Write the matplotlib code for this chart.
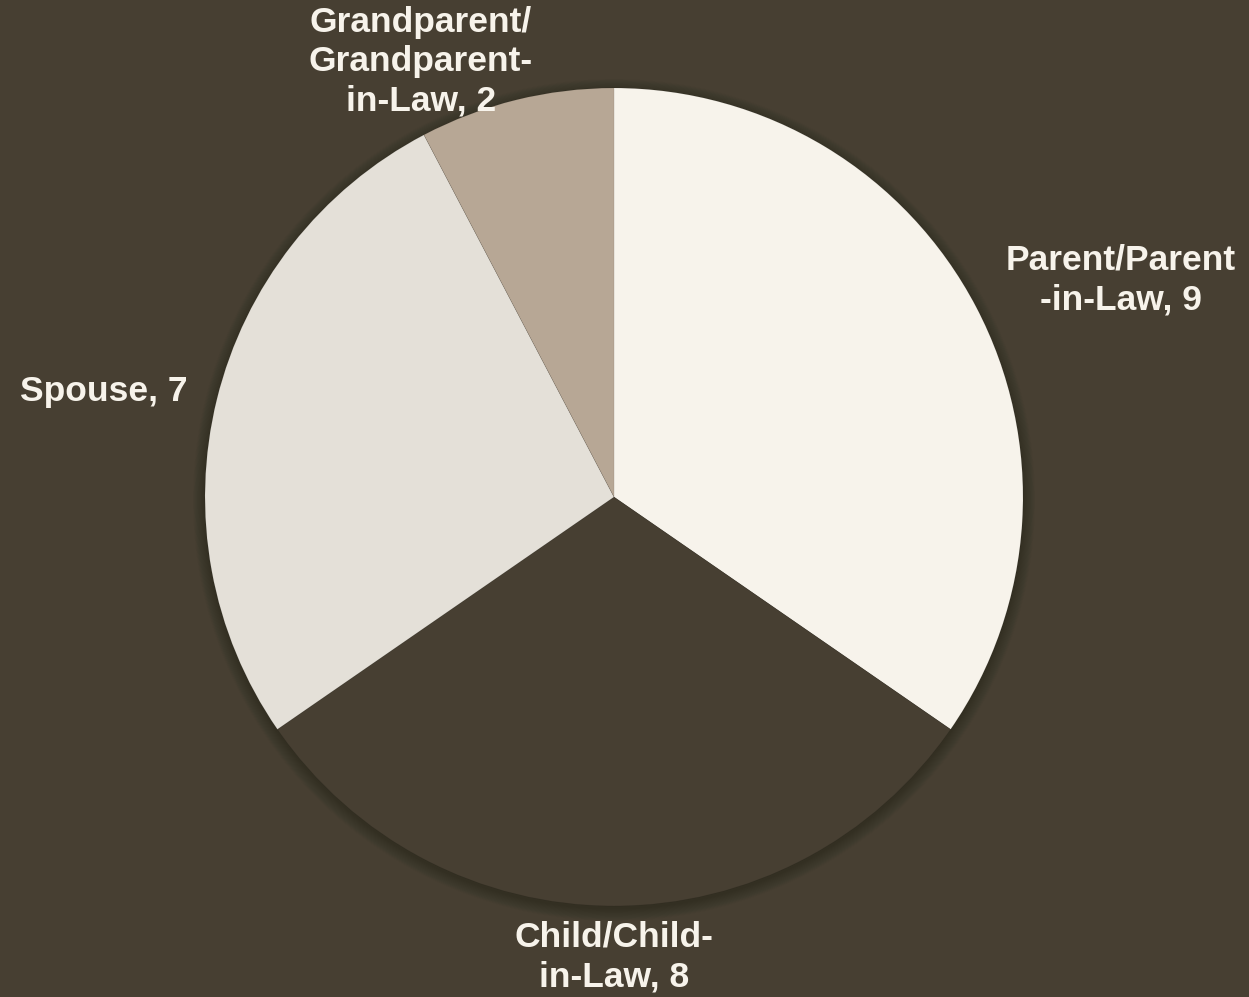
import matplotlib
matplotlib.use("Agg")
import matplotlib.pyplot as plt
from matplotlib.patches import Circle

categories = ["Parent/Parent\n-in-Law", "Child/Child-\nin-Law", "Spouse", "Grandparent/\nGrandparent-\nin-Law"]
values = [9, 8, 7, 2]
colors = ["#f7f3eb", "#473f32", "#e4e0d8", "#b7a795"]
bg = "#473f32"
text_color = "#f7f3eb"

# label anchor positions (figure pixel coords, y from top)
label_pos = [(1121, 280), (614, 957), (104, 392), (421, 62)]

W, H = 1249, 997
fig = plt.figure(figsize=(W / 100, H / 100), dpi=100, facecolor=bg)
ax = fig.add_axes([0, 0, 1, 1])
ax.set_facecolor(bg)

cx, cy, r = 614, H - 497, 409

# soft shadow
for k in range(16):
    ax.add_patch(Circle((cx, cy - 3), r + k * 0.8, color="black", alpha=0.016, lw=0, zorder=0))

wedges, _ = ax.pie(values, colors=colors, startangle=90, counterclock=False,
                   center=(cx, cy), radius=r, frame=True,
                   wedgeprops=dict(linewidth=0.5, edgecolor="#00000018"))
for w in wedges:
    w.set_zorder(2)

for cat, v, (lx, ly) in zip(categories, values, label_pos):
    ax.text(lx, H - ly, f"{cat}, {v}", ha="center", va="center", color=text_color,
            fontsize=25.5, fontweight="bold", family="Liberation Sans",
            linespacing=1.24, zorder=5)

ax.set_xlim(0, W)
ax.set_ylim(0, H)
ax.set_aspect("equal")
ax.axis("off")

fig.savefig("out.png", dpi=100, facecolor=bg)
